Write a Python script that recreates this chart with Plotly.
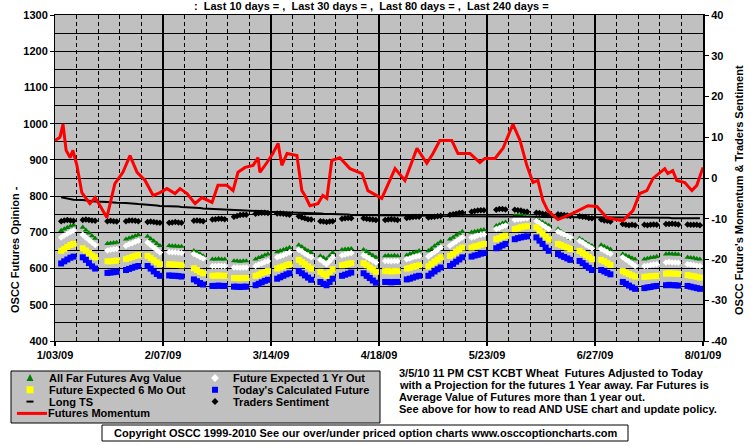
import plotly.graph_objects as go
import pandas as pd

W, H = 755, 446
PX0, PX1, PY0, PY1 = 55, 703, 15, 341


def fx(x):
    return x / W


def fy(y):
    return 1 - y / H


# ---------------- data ----------------
week_monday = pd.date_range("2009-01-05", periods=30, freq="7D")
holidays = ["2009-01-19", "2009-02-16", "2009-04-10", "2009-05-25", "2009-07-03"]

far_futures = [
    [705, 709, 713, 717, 720], [714, 706, 698, 690, 683], [669, 670, 671, 672],
    [681, 684, 687, 690, 693], [689, 682, 676, 669, 663], [663, 662, 662, 661, 661],
    [649, 645, 640, 635], [626, 626, 627, 626, 626], [621, 621, 620, 621, 621],
    [626, 630, 633, 637, 640], [646, 649, 652, 655, 658], [665, 660, 654, 649, 644],
    [635, 630, 626, 635, 644], [652, 653, 654, 655], [652, 647, 641, 636, 631],
    [635, 636, 635, 636, 635], [637, 640, 643, 646, 649], [649, 655, 662, 668, 674],
    [681, 686, 692, 697, 702], [700, 702, 704, 706, 707], [718, 721, 725, 728],
    [746, 747, 749, 750, 751], [737, 732, 728, 723, 719], [709, 702, 696, 689, 683],
    [683, 678, 672, 667, 663], [665, 661, 657, 653], [640, 636, 633, 629, 626],
    [626, 628, 630, 631, 633], [640, 641, 640, 640, 639], [631, 630, 629, 627, 626],
]
one_yr_out = [
    [686, 691, 696, 701, 705], [693, 686, 679, 672, 665], [650, 652, 653, 654],
    [663, 667, 670, 674, 677], [672, 665, 658, 651, 644], [646, 645, 645, 644, 643],
    [640, 636, 632, 628], [607, 607, 608, 607, 607], [603, 603, 602, 603, 603],
    [607, 611, 614, 618, 621], [631, 634, 637, 641, 644], [652, 647, 641, 636, 631],
    [624, 618, 612, 621, 631], [637, 639, 641, 643], [637, 632, 627, 622, 617],
    [621, 621, 620, 621, 621], [626, 628, 631, 633, 635], [633, 640, 646, 652, 658],
    [663, 669, 675, 681, 686], [686, 688, 691, 693, 695], [709, 712, 716, 719],
    [735, 736, 737, 738, 739], [732, 726, 720, 715, 709], [702, 698, 694, 690, 686],
    [677, 672, 666, 661, 656], [654, 650, 645, 641], [631, 625, 619, 613, 607],
    [607, 608, 610, 611, 612], [617, 618, 617, 617, 616], [612, 611, 610, 608, 607],
]
six_mo_out = [
    [649, 654, 660, 665, 668], [656, 650, 643, 636, 631], [620, 620, 621, 622],
    [626, 629, 632, 635, 637], [635, 629, 623, 617, 612], [612, 611, 611, 610, 609],
    [601, 596, 591, 587], [580, 580, 581, 580, 580], [574, 574, 573, 574, 574],
    [580, 583, 587, 590, 593], [600, 603, 606, 609, 612], [624, 618, 612, 606, 600],
    [591, 585, 580, 589, 598], [609, 611, 613, 615], [615, 609, 603, 597, 591],
    [593, 593, 592, 593, 593], [600, 602, 605, 607, 609], [606, 613, 619, 625, 631],
    [635, 641, 647, 653, 658], [658, 661, 663, 666, 668], [681, 684, 688, 691],
    [709, 711, 714, 716, 717], [714, 706, 697, 688, 680], [668, 665, 661, 658, 654],
    [649, 643, 638, 632, 626], [624, 620, 615, 610], [593, 589, 585, 581, 578],
    [577, 578, 579, 579, 580], [586, 587, 586, 586, 585], [582, 580, 579, 577, 575],
]
todays_future = [
    [614, 620, 625, 630, 633], [631, 624, 615, 606, 600], [588, 589, 590, 591],
    [596, 599, 602, 605, 607], [607, 600, 592, 585, 580], [581, 580, 580, 579, 578],
    [570, 565, 560, 556], [552, 552, 553, 552, 552], [550, 550, 549, 550, 550],
    [554, 558, 562, 566, 569], [572, 576, 580, 584, 587], [593, 587, 581, 575, 569],
    [563, 558, 554, 563, 572], [580, 583, 586, 589], [587, 580, 574, 567, 561],
    [563, 563, 562, 563, 563], [570, 572, 575, 578, 580], [580, 586, 592, 598, 603],
    [607, 613, 619, 625, 631], [633, 636, 638, 641, 643], [656, 660, 664, 668],
    [681, 684, 686, 688, 689], [686, 677, 668, 658, 649], [640, 636, 632, 628, 624],
    [621, 615, 608, 602, 596], [596, 592, 588, 584], [563, 558, 553, 548, 544],
    [546, 548, 549, 551, 552], [554, 555, 554, 554, 553], [552, 550, 548, 546, 544],
]
long_ts = [
    [797, 795, 794, 792, 790], [789, 788, 787, 786, 785], [784, 783, 783, 782],
    [781, 781, 780, 779, 778], [777, 776, 775, 774, 773], [773, 772, 772, 771, 770],
    [769, 768, 767, 766], [765, 765, 764, 764, 763], [762, 762, 761, 761, 760],
    [759, 759, 758, 758, 757], [757, 756, 756, 755, 755], [754, 754, 753, 753, 752],
    [752, 751, 751, 750, 750], [749, 749, 749, 748], [748, 748, 747, 747, 747],
    [747, 747, 746, 746, 746], [746, 746, 746, 746, 746], [746, 746, 746, 745, 745],
    [745, 745, 745, 745, 745], [745, 745, 744, 744, 744], [744, 744, 744, 744],
    [743, 743, 743, 743, 743], [743, 743, 742, 742, 742], [742, 742, 742, 742, 742],
    [742, 741, 741, 741, 741], [741, 741, 741, 741], [741, 740, 740, 740, 740],
    [740, 740, 740, 740, 740], [740, 740, 739, 739, 739], [739, 739, 739, 739, 739],
]
traders_sentiment = [
    [-10.6, -10.4, -10.3, -10.4, -10.5], [-10.3, -10.2, -10.3, -10.4, -10.5],
    [-10.6, -10.5, -10.6, -10.7], [-10.6, -10.4, -10.4, -10.5, -10.6],
    [-10.8, -10.7, -10.8, -10.9, -11.0], [-11.0, -10.9, -10.8, -10.9, -11.0],
    [-10.5, -10.4, -10.5, -10.6], [-10.2, -10.1, -10.0, -10.0, -10.1],
    [-9.5, -9.3, -9.1, -9.0, -9.0], [-8.8, -8.6, -8.5, -8.5, -8.6],
    [-8.7, -8.7, -8.8, -8.9, -9.0], [-9.4, -9.7, -9.9, -10.1, -10.2],
    [-10.6, -10.7, -10.8, -10.7, -10.6], [-10.0, -9.9, -9.8, -9.9],
    [-9.9, -10.0, -10.1, -10.2, -10.3], [-10.3, -10.2, -10.1, -10.2, -10.3],
    [-9.8, -9.7, -9.6, -9.5, -9.5], [-9.7, -9.6, -9.5, -9.4, -9.3],
    [-9.0, -8.9, -8.8, -8.6, -8.5], [-8.3, -8.1, -8.0, -7.9, -7.9],
    [-7.8, -7.6, -7.6, -7.7], [-7.8, -7.9, -8.0, -8.2, -8.3],
    [-8.5, -8.6, -8.8, -8.9, -9.0], [-8.9, -9.0, -9.1, -9.2, -9.3],
    [-9.4, -9.5, -9.6, -9.8, -9.9], [-10.2, -10.4, -10.5, -10.7],
    [-11.3, -11.5, -11.6, -11.5, -11.6], [-11.5, -11.6, -11.5, -11.4, -11.5],
    [-11.3, -11.3, -11.2, -11.3, -11.4], [-11.4, -11.5, -11.5, -11.5, -11.6],
]
# Futures momentum: days after 1/03/09 and value (right axis)
momentum_day = [
    0, 1.6, 2.6, 3.6, 4.9, 5.8, 7.1, 8.7, 11.3, 13.0, 14.6, 16.8, 19.4, 22.0, 24.3,
    26.6, 29.2, 31.8, 34.0, 36.3, 38.9, 40.5, 42.8, 45.4, 47.6, 50.9, 52.8, 55.7,
    57.7, 59.3, 61.6, 64.2, 65.8, 66.4, 68.7, 70.6, 72.3, 73.5, 75.2, 78.4, 80.0,
    81.0, 82.6, 85.2, 86.8, 88.1, 89.7, 92.3, 95.6, 99.5, 101.4, 105.9, 110.2,
    113.4, 117.3, 120.5, 122.5, 124.7, 128.6, 130.6, 134.5, 137.7, 139.3, 142.6,
    145.2, 148.4, 150.7, 152.9, 154.9, 156.5, 158.1, 159.7, 163.0, 165.9, 167.8,
    172.7, 175.6, 178.8, 184.0, 187.3, 189.5, 191.8, 193.8, 197.6, 198.6, 200.2,
    201.5, 204.1, 206.4, 208.0, 210.0,
]
momentum_value = [
    9.2, 10.0, 13.2, 6.8, 5.0, 6.8, 3.1, -3.6, -6.3, -4.8, -6.8, -9.7, -1.4, 1.4, 5.5,
    1.4, -0.6, -4.3, -3.6, -2.6, -3.8, -2.6, -3.8, -6.3, -4.8, -6.0, -1.8, -1.8,
    -3.1, 1.4, 2.6, 3.1, 5.0, 1.4, 3.8, 6.0, 8.5, 3.1, 6.0, 5.5, -3.1,
    -4.3, -6.8, -6.3, -4.3, -5.0, 4.3, 5.0, 2.3, 1.1, -3.1, -5.0, 2.3,
    -0.6, 7.3, 3.6, 6.0, 9.2, 9.2, 6.0, 6.0, 3.8, 4.8, 4.8,
    7.3, 13.2, 9.2, 3.1, -1.1, -0.6, -5.5, -8.0, -10.2, -9.2, -8.7,
    -6.8, -7.0, -9.7, -10.5, -8.0, -3.8, -3.1, -0.1, 2.3, 1.1, 1.8,
    -0.6, -1.1, -3.1, -1.8, 2.6,
]

x_start, x_end = "2009-01-03", "2009-08-01"
right_ticks = list(range(-40, 41, 10))

# ---------------- build ----------------
hol = set(pd.to_datetime(holidays))
dates = [m + pd.Timedelta(days=d) for m in week_monday for d in range(5)
         if (m + pd.Timedelta(days=d)) not in hol]


def flat(rows):
    out = [v for r in rows for v in r]
    assert len(out) == len(dates)
    return out


mom_dates = [pd.Timestamp(x_start) + pd.Timedelta(days=d) for d in momentum_day]

fig = go.Figure()
fig.add_trace(go.Scatter(x=dates, y=flat(far_futures), mode="markers", name="All Far Futures Avg Value",
                         marker=dict(symbol="triangle-up", size=5.5, color="#008000", line=dict(width=0))))
fig.add_trace(go.Scatter(x=dates, y=flat(one_yr_out), mode="markers", name="Future Expected 1 Yr Out",
                         marker=dict(symbol="diamond", size=5, color="#FFFFFF", line=dict(width=0))))
fig.add_trace(go.Scatter(x=dates, y=flat(six_mo_out), mode="markers", name="Future Expected 6 Mo Out",
                         marker=dict(symbol="square", size=6, color="#FFFF00", line=dict(width=0))))
fig.add_trace(go.Scatter(x=dates, y=flat(todays_future), mode="markers", name="Today's Calculated Future",
                         marker=dict(symbol="square", size=6, color="#0000FF", line=dict(width=0))))
fig.add_trace(go.Scatter(x=dates, y=flat(long_ts), mode="lines", name="Long TS",
                         line=dict(color="black", width=2)))
fig.add_trace(go.Scatter(x=dates, y=flat(traders_sentiment), mode="markers", name="Traders Sentiment",
                         yaxis="y2", marker=dict(symbol="diamond", size=5, color="black", line=dict(width=0))))
fig.add_trace(go.Scatter(x=mom_dates, y=momentum_value, mode="lines", name="Futures Momentum",
                         yaxis="y2", line=dict(color="#FF0000", width=3)))

DAY = 86400000
font = dict(family="Liberation Sans, Arial, sans-serif", size=11, color="black", weight="bold")

fig.update_layout(
    width=W, height=H, margin=dict(l=0, r=0, t=0, b=0, pad=0, autoexpand=False),
    paper_bgcolor="white", plot_bgcolor="#C0C0C0", showlegend=False, font=font,
    xaxis=dict(
        type="date", range=[x_start, x_end], domain=[fx(PX0), fx(PX1)],
        tick0=x_start, dtick=35 * DAY, tickformat="%-m/%d/%y",
        showgrid=True, gridcolor="black", gridwidth=2,
        ticks="outside", ticklen=4, tickwidth=2, tickcolor="black",
        showline=True, linecolor="black", linewidth=1, mirror=True,
        minor=dict(tick0=x_start, dtick=7 * DAY, showgrid=True, gridcolor="black",
                   gridwidth=1, griddash="4px,3px", ticks=""),
        zeroline=False, fixedrange=True, automargin=False,
    ),
    yaxis=dict(
        range=[400, 1300], domain=[fy(PY1), fy(PY0)], dtick=100,
        showgrid=True, gridcolor="black", gridwidth=1,
        ticks="outside", ticklen=4, tickcolor="black",
        showline=True, linecolor="black", linewidth=1,
        minor=dict(dtick=50, showgrid=True, gridcolor="black", gridwidth=1, ticks=""),
        zeroline=False, automargin=False,
    ),
    yaxis2=dict(
        range=[-40, 40], overlaying="y", side="right", anchor="x",
        tickvals=right_ticks, ticktext=[str(v) for v in right_ticks],
        showgrid=False, zeroline=False,
        ticks="outside", ticklen=4, tickcolor="black",
        showline=True, linecolor="black", linewidth=2, automargin=False,
    ),
)

ann = []
shapes = []


def text(x, y, s, xanchor="left", angle=0, size=11):
    ann.append(dict(x=fx(x), y=fy(y), xref="paper", yref="paper", text=s, showarrow=False,
                    xanchor=xanchor, yanchor="middle", textangle=angle, borderpad=0,
                    font=dict(family=font["family"], size=size, color="black", weight="bold")))


# titles
text(371, 6, ":  Last 10 days = ,  Last 30 days = ,  Last 80 days = ,  Last 240 days =", "center")
text(15, 250, "OSCC Futures Opinion -", "center", angle=-90)
text(739, 190, "OSCC Future's Momentum & Traders Sentiment", "center", angle=-90)

# legend box
shapes.append(dict(type="rect", xref="paper", yref="paper", x0=fx(11), x1=fx(380), y0=fy(371), y1=fy(423),
                   fillcolor="#C0C0C0", line=dict(color="black", width=1), layer="above"))
rows = [378, 389.8, 401.6, 413.4]
c1m, c1t, c2m, c2t = 30, 48, 215, 232


def poly(pts, color):
    path = "M " + " L ".join(f"{fx(a):.5f},{fy(b):.5f}" for a, b in pts) + " Z"
    shapes.append(dict(type="path", xref="paper", yref="paper", path=path, fillcolor=color,
                       line=dict(width=0), layer="above"))


# row 1
poly([(c1m - 3.5, rows[0] + 3), (c1m + 3.5, rows[0] + 3), (c1m, rows[0] - 4)], "#008000")
text(c1t, rows[0], "All Far Futures Avg Value")
poly([(c2m, rows[0] - 4), (c2m + 4, rows[0]), (c2m, rows[0] + 4), (c2m - 4, rows[0])], "#FFFFFF")
text(c2t, rows[0], "Future Expected 1 Yr Out")
# row 2
poly([(c1m - 3.5, rows[1] - 3.5), (c1m + 3.5, rows[1] - 3.5), (c1m + 3.5, rows[1] + 3.5), (c1m - 3.5, rows[1] + 3.5)], "#FFFF00")
text(c1t, rows[1], "Future Expected 6 Mo Out")
poly([(c2m - 3, rows[1] - 3), (c2m + 3, rows[1] - 3), (c2m + 3, rows[1] + 3), (c2m - 3, rows[1] + 3)], "#0000FF")
text(c2t, rows[1], "Today's Calculated Future")
# row 3
poly([(c1m - 3.5, rows[2] - 1), (c1m + 3.5, rows[2] - 1), (c1m + 3.5, rows[2] + 1), (c1m - 3.5, rows[2] + 1)], "#000000")
text(c1t, rows[2], "Long TS")
poly([(c2m, rows[2] - 3.5), (c2m + 3.5, rows[2]), (c2m, rows[2] + 3.5), (c2m - 3.5, rows[2])], "#000000")
text(c2t, rows[2], "Traders Sentiment")
# row 4
shapes.append(dict(type="line", xref="paper", yref="paper", x0=fx(17), x1=fx(47), y0=fy(rows[3]), y1=fy(rows[3]),
                   line=dict(color="#FF0000", width=3), layer="above"))
text(c1t - 1, rows[3], "Futures Momentum")

# notes
notes = [
    "3/5/10 11 PM CST KCBT Wheat  Futures Adjusted to Today",
    "with a Projection for the futures 1 Year away. Far Futures is",
    "Average Value of Futures more than 1 year out.",
    "See above for how to read AND USE chart and update policy.",
]
for yy, s in zip([373, 385, 397, 409], notes):
    text(398, yy, s)

# copyright
shapes.append(dict(type="rect", xref="paper", yref="paper", x0=fx(102), x1=fx(628), y0=fy(425), y1=fy(441),
                   fillcolor="white", line=dict(color="black", width=1), layer="above"))
text(365, 433, "Copyright OSCC 1999-2010 See our over/under priced option charts www.osccoptioncharts.com", "center")

fig.update_layout(annotations=ann, shapes=shapes)
fig.write_html("out.html", config={"displayModeBar": False},
               post_script="document.body.style.margin='0';document.body.style.overflow='hidden';")
